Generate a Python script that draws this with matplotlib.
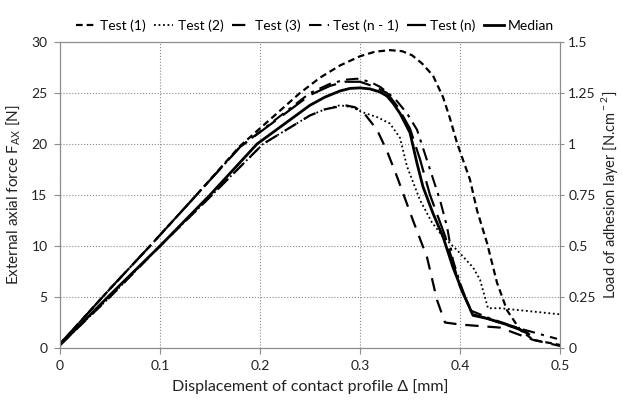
import matplotlib
matplotlib.use("Agg")
import matplotlib.pyplot as plt

plt.rcParams["font.family"] = ["Lato", "DejaVu Sans"]
plt.rcParams["mathtext.fontset"] = "custom"
plt.rcParams["mathtext.rm"] = "Lato"

# displacement [mm] / force [N]
test1_x = [0, 0.05, 0.09, 0.13, 0.18, 0.24, 0.26, 0.28, 0.30, 0.315, 0.33, 0.342, 0.352, 0.362,
           0.373, 0.383, 0.39, 0.397, 0.41, 0.417, 0.427, 0.437, 0.447, 0.46, 0.473, 0.5]
test1_y = [0.4, 5.8, 10.0, 14.3, 19.8, 25.0, 26.5, 27.7, 28.6, 29.05, 29.2, 29.1, 28.7, 27.9,
           26.7, 24.6, 22.5, 20.1, 16.5, 13.5, 10.3, 6.4, 3.7, 1.8, 0.8, 0.3]

test2_x = [0, 0.05, 0.1, 0.15, 0.203, 0.25, 0.265, 0.28, 0.292, 0.303, 0.318, 0.33, 0.34, 0.347,
           0.36, 0.372, 0.383, 0.397, 0.413, 0.42, 0.428, 0.44, 0.5]
test2_y = [0.3, 5.0, 10.0, 14.8, 20.0, 22.8, 23.4, 23.8, 23.6, 23.1, 22.6, 22.0, 20.6, 17.8,
           14.5, 12.3, 10.9, 9.6, 7.9, 6.7, 3.9, 3.9, 3.3]

test3_x = [0, 0.05, 0.1, 0.15, 0.203, 0.25, 0.265, 0.285, 0.295, 0.305, 0.317, 0.327, 0.337,
           0.353, 0.367, 0.377, 0.385, 0.4, 0.44, 0.473, 0.5]
test3_y = [0.3, 5.0, 10.0, 14.8, 20.0, 22.8, 23.4, 23.8, 23.6, 22.9, 21.4, 19.3, 16.8,
           12.5, 8.9, 4.7, 2.5, 2.3, 2.0, 0.8, 0.2]

testn1_x = [0, 0.05, 0.09, 0.13, 0.18, 0.25, 0.27, 0.285, 0.297, 0.31, 0.32, 0.327, 0.337, 0.347,
            0.357, 0.367, 0.38, 0.387, 0.393, 0.40, 0.41, 0.43, 0.46, 0.497]
testn1_y = [0.4, 5.8, 10.0, 14.3, 19.7, 25.0, 25.9, 26.3, 26.4, 26.1, 25.6, 25.1, 24.2, 23.0,
            21.4, 18.4, 14.5, 11.9, 8.6, 6.4, 3.7, 2.9, 1.9, 0.9]

testn_x = [0, 0.05, 0.09, 0.13, 0.18, 0.25, 0.27, 0.285, 0.3, 0.315, 0.327, 0.338, 0.35, 0.36,
           0.37, 0.385, 0.40, 0.413, 0.43, 0.46, 0.47]
testn_y = [0.4, 5.8, 10.0, 14.3, 19.7, 24.8, 25.7, 26.1, 26.1, 25.6, 25.0, 23.6, 21.5, 18.5,
           15.0, 11.0, 6.0, 3.3, 2.8, 1.8, 1.3]

median_x = [0, 0.05, 0.1, 0.15, 0.197, 0.25, 0.265, 0.28, 0.29, 0.3, 0.31, 0.32, 0.327, 0.333,
            0.34, 0.35, 0.357, 0.363, 0.373, 0.383, 0.393, 0.403, 0.413, 0.427, 0.453, 0.467]
median_y = [0.3, 5.2, 10.0, 15.0, 20.0, 23.8, 24.6, 25.2, 25.45, 25.5, 25.4, 25.1, 24.7, 24.0,
            23.0, 21.1, 18.1, 15.8, 13.2, 10.9, 7.9, 5.4, 3.2, 2.9, 2.1, 1.5]

fig = plt.figure(figsize=(6.23, 4.03), dpi=100)
ax = fig.add_axes([0.0963, 0.1365, 0.8026, 0.7593])

ax.plot(test1_x, test1_y, color="black", lw=1.6, ls=(0, (3, 1.8)), label="Test (1)")
ax.plot(test2_x, test2_y, color="black", lw=1.3, ls=(0, (1, 1.5)), label="Test (2)")
ax.plot(test3_x, test3_y, color="black", lw=1.6, ls=(0, (6, 4)), label="Test (3)")
ax.plot(testn1_x, testn1_y, color="black", lw=1.5, ls=(0, (6, 3, 1.5, 3)), label="Test (n - 1)")
ax.plot(testn_x, testn_y, color="black", lw=1.6, ls=(0, (12, 4)), label="Test (n)")
ax.plot(median_x, median_y, color="black", lw=2.0, ls="-", label="Median")

ax.set_xlim(0, 0.5)
ax.set_ylim(0, 30)
ax.set_xticks([0, 0.1, 0.2, 0.3, 0.4, 0.5])
ax.set_xticklabels(["0", "0.1", "0.2", "0.3", "0.4", "0.5"])
ax.set_yticks(range(0, 31, 5))
ax.grid(True, color="#888888", ls=":", lw=0.8)
for s in ax.spines.values():
    s.set_color("#8c8c8c")
ax.tick_params(labelsize=10, colors="#8c8c8c", labelcolor="#222222", length=4, pad=5)
ax.set_xlabel("Displacement of contact profile Δ [mm]", fontsize=11.5, color="#222222", labelpad=5)
ax.set_ylabel("External axial force F$_{\\rm AX}$ [N]", fontsize=11, color="#222222", labelpad=6)

ax2 = ax.twinx()
ax2.set_ylim(0, 1.5)
ax2.set_yticks([0, 0.25, 0.5, 0.75, 1, 1.25, 1.5])
ax2.set_yticklabels(["0", "0.25", "0.5", "0.75", "1", "1.25", "1.5"])
for s in ax2.spines.values():
    s.set_color("#8c8c8c")
ax2.tick_params(labelsize=10, colors="#8c8c8c", labelcolor="#222222", length=3, pad=3)
ax2.set_ylabel("Load of adhesion layer [N.cm$^{\\rm -2}$]", fontsize=10.5, color="#222222", labelpad=2)

ax.legend(loc="lower center", bbox_to_anchor=(0.51, 1.0), ncol=6, frameon=False, fontsize=10,
          handlelength=1.4, handletextpad=0.3, columnspacing=0.6, borderaxespad=0.3)

fig.savefig("out.png", dpi=100)
